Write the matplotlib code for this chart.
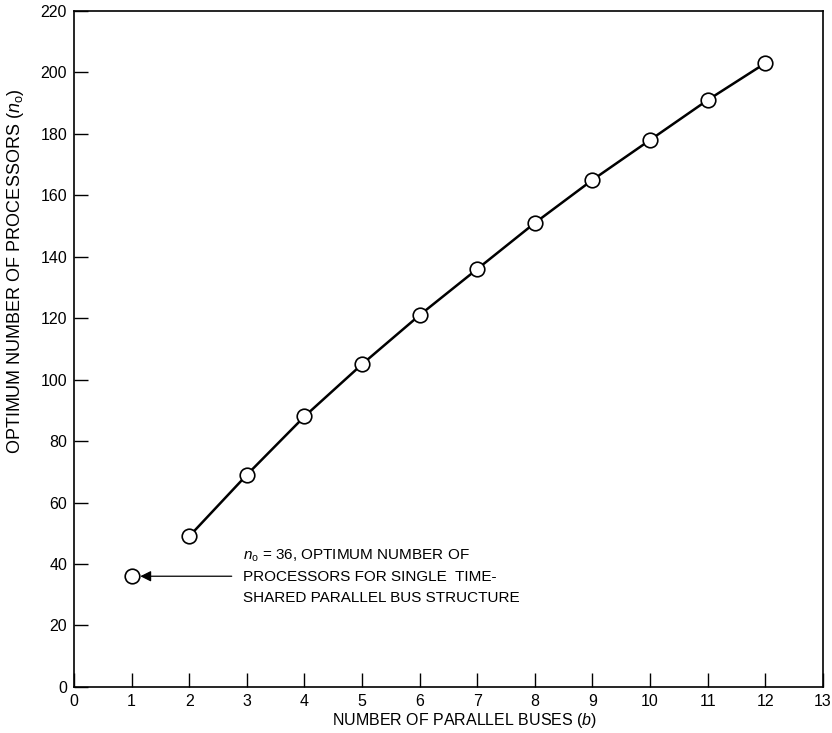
import matplotlib
matplotlib.use("Agg")
import matplotlib.pyplot as plt

# Optimum number of processors vs number of parallel buses
buses = [2, 3, 4, 5, 6, 7, 8, 9, 10, 11, 12]
processors = [49, 69, 88, 105, 121, 136, 151, 165, 178, 191, 203]
single_bus = 1
single_bus_n = 36

x_ticks = list(range(0, 14))
y_ticks = list(range(0, 221, 20))

plt.rcParams['font.family'] = ['Liberation Sans', 'DejaVu Sans']
plt.rcParams['mathtext.fontset'] = 'custom'
plt.rcParams['mathtext.rm'] = 'Liberation Sans'
plt.rcParams['mathtext.it'] = 'Liberation Sans:italic'

fig = plt.figure(figsize=(8.32, 7.33), dpi=100)
ax = fig.add_axes([0.089, 0.063, 0.9, 0.922])

ax.plot(buses, processors, color='black', linewidth=1.8,
        marker='o', markersize=10.5, markerfacecolor='white',
        markeredgecolor='black', markeredgewidth=1.2, zorder=3)
ax.plot([single_bus], [single_bus_n], linestyle='none',
        marker='o', markersize=10.5, markerfacecolor='white',
        markeredgecolor='black', markeredgewidth=1.2, zorder=3)

ax.annotate("$n_\\mathrm{o}$ = 36, OPTIMUM NUMBER OF\n"
            "PROCESSORS FOR SINGLE  TIME-\n"
            "SHARED PARALLEL BUS STRUCTURE",
            xy=(single_bus + 0.15, single_bus_n), xytext=(2.93, single_bus_n),
            fontsize=11, va='center', ha='left', linespacing=1.6,
            arrowprops=dict(arrowstyle='-|>', color='black', lw=0.9,
                            mutation_scale=16, shrinkA=6, shrinkB=0))

ax.set_xlim(0, 13)
ax.set_ylim(0, 220)
ax.set_xticks(x_ticks)
ax.set_yticks(y_ticks)
ax.tick_params(direction='in', length=10, width=1, labelsize=11.5, pad=5)
for s in ax.spines.values():
    s.set_linewidth(1.2)

ax.set_xlabel("NUMBER OF PARALLEL BUSES ($b$)", fontsize=11.5)
ax.set_ylabel("OPTIMUM NUMBER OF PROCESSORS ($n_\\mathrm{o}$)", fontsize=13)
ax.xaxis.set_label_coords(0.521, -0.036)
ax.yaxis.set_label_coords(-0.064, 0.615)

fig.savefig("out.png", dpi=100)
